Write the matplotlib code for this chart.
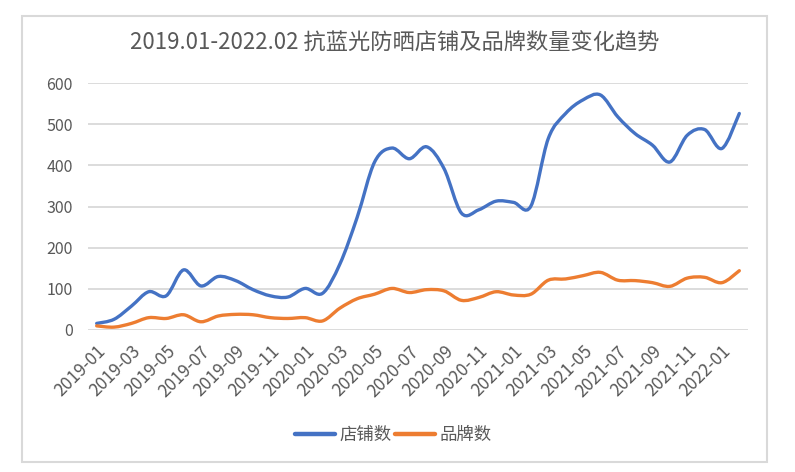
import matplotlib
matplotlib.use("Agg")
import matplotlib.pyplot as plt
from matplotlib.path import Path
from matplotlib.patches import PathPatch, Rectangle
from matplotlib.lines import Line2D
import numpy as np

plt.rcParams['font.family'] = ['Noto Sans CJK SC', 'DejaVu Sans']

title = "2019.01-2022.02 抗蓝光防晒店铺及品牌数量变化趋势"
months = [f"{y}-{m:02d}" for y in (2019, 2020, 2021) for m in range(1, 13)] + ["2022-01", "2022-02"]
shops = [16, 26, 58, 93, 83, 146, 107, 130, 120, 98, 83, 80, 101, 89, 160, 274,
         408, 442, 416, 445, 392, 284, 292, 313, 310, 301, 465, 526, 559, 571,
         518, 477, 449, 408, 473, 487, 441, 526]
brands = [10, 7, 16, 30, 28, 37, 20, 34, 38, 37, 30, 28, 30, 22, 53, 76,
          87, 101, 91, 98, 95, 72, 79, 93, 85, 87, 121, 124, 132, 140,
          121, 120, 115, 106, 126, 128, 115, 144]
series_names = ["店铺数", "品牌数"]
colors = ["#4472C4", "#ED7D31"]
yticks = [0, 100, 200, 300, 400, 500, 600]

W, H = 795, 472
fig = plt.figure(figsize=(W / 100, H / 100), dpi=100)
fig.patches.append(Rectangle((22 / W, 1 - 462 / H), (767 - 22) / W, (462 - 16) / H,
                             transform=fig.transFigure, fill=False,
                             edgecolor="#D9D9D9", linewidth=1.5))

ax = fig.add_axes([88 / W, 1 - 330 / H, (748 - 88) / W, (330 - 83) / H])
x = np.arange(len(months))


def smooth_path(xs, ys):
    pts = np.column_stack([xs, ys]).astype(float)
    n = len(pts)
    verts = [pts[0]]
    codes = [Path.MOVETO]
    for i in range(n - 1):
        p0 = pts[i - 1] if i > 0 else pts[i]
        p1 = pts[i]
        p2 = pts[i + 1]
        p3 = pts[i + 2] if i + 2 < n else pts[i + 1]
        c1 = p1 + (p2 - p0) / 6.0
        c2 = p2 - (p3 - p1) / 6.0
        verts += [c1, c2, p2]
        codes += [Path.CURVE4] * 3
    return Path(verts, codes)


for ys, c in zip([shops, brands], colors):
    ax.add_patch(PathPatch(smooth_path(x, ys), fill=False, edgecolor=c,
                           linewidth=2.4, capstyle="round", joinstyle="round", zorder=3))

ax.set_xlim(-0.5, len(months) - 0.5)
ax.set_ylim(0, 600)
ax.set_yticks(yticks)
ax.set_yticklabels([str(v) for v in yticks])
ax.grid(axis="y", color="#D9D9D9", linewidth=1.3)
ax.set_axisbelow(True)
for s in ax.spines.values():
    s.set_visible(False)
ax.tick_params(axis="y", length=0, pad=11, labelsize=11.5, labelcolor="#595959")
ax.set_xticks(x[::2])
ax.set_xticklabels(months[::2], rotation=45, ha="right", rotation_mode="anchor")
ax.tick_params(axis="x", length=0, pad=9, labelsize=12.5, labelcolor="#595959")

fig.text(395 / W, 1 - 43 / H, title, ha="center", va="center", fontsize=16, color="#595959")

handles = [Line2D([], [], color=c, linewidth=3.2, solid_capstyle="round") for c in colors]
fig.legend(handles, series_names, loc="center", bbox_to_anchor=(393 / W, 1 - 435 / H),
           ncol=2, frameon=False, fontsize=12.5, labelcolor="#595959",
           handlelength=2.3, columnspacing=0.2, handletextpad=0.25)

fig.savefig("out.png", dpi=100)
